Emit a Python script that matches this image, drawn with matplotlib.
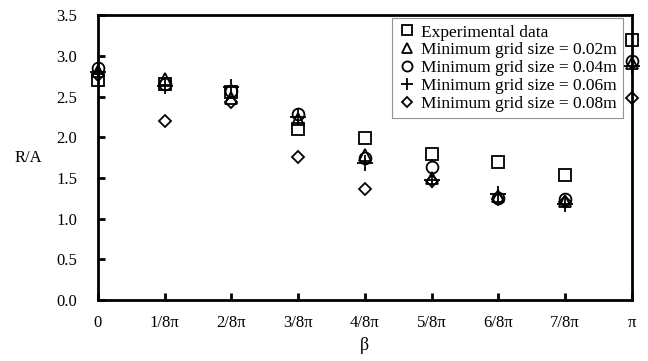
import numpy as np
from matplotlib import pyplot as plt

plt.rcParams['font.family'] = ['Liberation Serif', 'DejaVu Serif']

# beta in units of pi/8
beta = np.arange(9) * np.pi / 8
tick_labels = ['0', '1/8π', '2/8π', '3/8π', '4/8π', '5/8π', '6/8π', '7/8π', 'π']

experimental = [2.70, 2.65, 2.55, 2.10, 1.99, 1.79, 1.69, 1.53, 3.19]
grid_002 = [2.82, 2.72, 2.48, 2.22, 1.78, 1.50, 1.28, 1.22, 2.91]
grid_004 = [2.85, 2.65, 2.57, 2.29, 1.75, 1.63, 1.25, 1.24, 2.94]
grid_006 = [2.80, 2.63, 2.62, 2.25, 1.68, 1.47, 1.30, 1.18, 2.88]
grid_008 = [2.76, 2.20, 2.43, 1.76, 1.37, 1.46, 1.24, 1.20, 2.48]

fig = plt.figure(figsize=(6.48, 3.61), dpi=100)
ax = fig.add_axes([0.151, 0.169, 0.824, 0.789])

series = [
    (experimental, 's', 9, 'Experimental data'),
    (grid_002, '^', 9, 'Minimum grid size = 0.02m'),
    (grid_004, 'o', 8.5, 'Minimum grid size = 0.04m'),
    (grid_006, '+', 11, 'Minimum grid size = 0.06m'),
    (grid_008, 'D', 6.5, 'Minimum grid size = 0.08m'),
]
for vals, mk, ms, lab in series:
    ax.plot(beta, vals, linestyle='none', marker=mk, markersize=ms,
            markerfacecolor='none', markeredgecolor='black',
            markeredgewidth=1.3, clip_on=False, label=lab, zorder=3)

ax.set_xlim(0, np.pi)
ax.set_ylim(0, 3.5)
ax.set_xticks(beta)
ax.set_xticklabels(tick_labels)
ax.set_yticks(np.arange(0, 3.51, 0.5))
ax.set_yticklabels(['%.1f' % v for v in np.arange(0, 3.51, 0.5)])
ax.tick_params(direction='in', length=5, width=2, labelsize=12)
ax.tick_params(axis='x', pad=11)
ax.tick_params(axis='y', pad=15)
for s in ax.spines.values():
    s.set_linewidth(2)

ax.set_xlabel('β', fontsize=13, labelpad=4)
ax.set_ylabel('R/A', fontsize=12, rotation=0, labelpad=20, va='center')

leg = ax.legend(loc='upper right', bbox_to_anchor=(0.983, 0.989), borderaxespad=0,
                fontsize=12.5, labelspacing=0.1, handlelength=1.0, handletextpad=0.3,
                borderpad=0.35, fancybox=False, frameon=True, markerscale=0.85)
leg.get_frame().set_edgecolor('#777777')
leg.get_frame().set_linewidth(0.8)

plt.savefig('out.png', dpi=100)
